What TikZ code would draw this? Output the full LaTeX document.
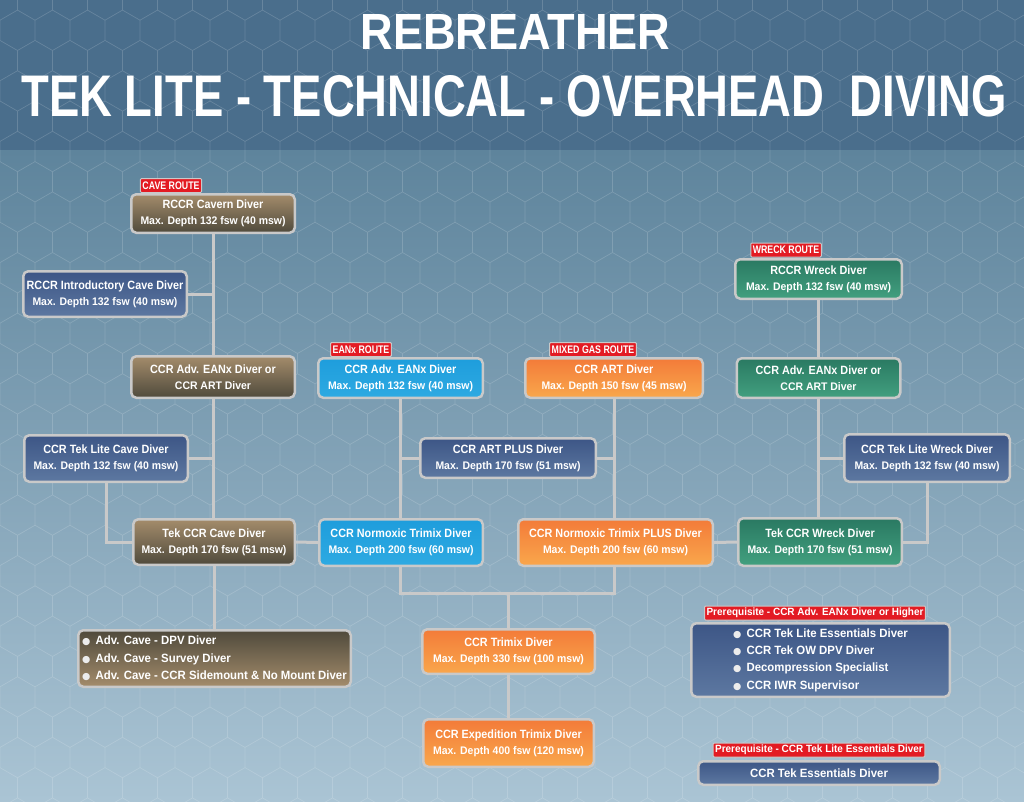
\documentclass[tikz,border=0pt]{standalone}
\usepackage{fontspec}
\setmainfont{Liberation Sans}[FakeStretch=0.95]
\newfontfamily\headfont{Liberation Sans}[FakeStretch=0.9]
\newfontfamily\tabfont{Liberation Sans}[FakeStretch=0.8]
\newfontfamily\dotfont{DejaVu Sans}
\usetikzlibrary{calc}
\pgfdeclarelayer{bg}
\pgfdeclarelayer{lines}
\pgfsetlayers{bg,lines,main}
\definecolor{hdr}{HTML}{4A6E8C}
\definecolor{bgtop}{HTML}{5E849C}
\definecolor{bgmid}{HTML}{7FA2B8}
\definecolor{bgbot}{HTML}{AAC4D4}
\definecolor{brdr}{HTML}{C9C9C9}
\definecolor{brownT}{HTML}{A48C6B}
\definecolor{brownB}{HTML}{4F4A3C}
\definecolor{navyT}{HTML}{3D5686}
\definecolor{navyB}{HTML}{5D78A1}
\definecolor{skyT}{HTML}{1E9DDC}
\definecolor{skyB}{HTML}{2EAAE2}
\definecolor{orgT}{HTML}{F37B39}
\definecolor{orgB}{HTML}{F9A74C}
\definecolor{grnT}{HTML}{2A7962}
\definecolor{grnB}{HTML}{42A07F}
\definecolor{tabred}{HTML}{E31B23}
\newcommand\subl[1]{{\normalfont\bfseries\fontsize{11}{12}\selectfont #1}}
\newcommand\blt{\makebox[13.5pt][l]{\textcolor{white!85!gray}{\dotfont\fontsize{9.5}{10}\selectfont ●}}}
\tikzset{
  box/.style={draw=brdr, line width=2.5pt, rounded corners=5pt, text=white, align=center,
    font=\headfont\bfseries\fontsize{12}{16}\selectfont, inner sep=2pt},
  brownbox/.style={box, top color=brownT, bottom color=brownB},
  brownrev/.style={box, top color=brownB, bottom color=brownT},
  navybox/.style={box, top color=navyT, bottom color=navyB},
  skybox/.style={box, top color=skyT, bottom color=skyB},
  orgbox/.style={box, top color=orgT, bottom color=orgB},
  grnbox/.style={box, top color=grnT, bottom color=grnB},
  tab/.style={fill=tabred, draw=brdr, line width=1pt, text=white, rounded corners=1pt,
    font=\tabfont\bfseries\fontsize{11}{12}\selectfont, inner sep=2pt, minimum height=14pt},
  pretab/.style={tab, font=\normalfont\bfseries\fontsize{10.5}{11}\selectfont},
  conn/.style={draw=brdr, line width=3pt},
  ttl/.style={text=white, inner sep=0pt, font=\bfseries},
}
\begin{document}
\begin{tikzpicture}[x=1pt, y=-1pt]
\useasboundingbox (0,0) rectangle (1024,801);
\begin{pgfonlayer}{bg}
  \shade[top color=bgtop, middle color=bgmid, bottom color=bgbot] (0,150) rectangle (1024,801);
  \fill[hdr] (0,0) rectangle (1024,150);
  \draw[white, opacity=0.16, line width=0.7pt]
    \foreach \j [evaluate=\j as \off using {mod(\j,2)*17.5}] in {0,...,27} {
      \foreach \i in {-1,...,30} {
        ({\i*35+\off-17.5},{\j*30.3-10.1}) -- ({\i*35+\off},{\j*30.3-20.2})
        -- ({\i*35+\off+17.5},{\j*30.3-10.1}) -- ({\i*35+\off+17.5},{\j*30.3+10.1})
      }
    };
\end{pgfonlayer}

% title
\node[ttl] (ttl1) at (515.5,32) {\resizebox{310pt}{35pt}{REBREATHER}};
\node[ttl] (ttl2) at (514,96.5) {\resizebox{985pt}{41pt}{TEK LITE - TECHNICAL - OVERHEAD\ \ DIVING}};

% cave route
\node[brownbox, minimum width=163.5pt, minimum height=38.5pt] (c1) at (213,213.5)
  {RCCR Cavern Diver\\\subl{Max. Depth 132 fsw (40 msw)}};
\node[navybox, minimum width=163.5pt, minimum height=45.5pt] (c2) at (105,294)
  {RCCR Introductory Cave Diver\\\subl{Max. Depth 132 fsw (40 msw)}};
\node[brownbox, minimum width=163.5pt, minimum height=41.5pt] (c3) at (213,377)
  {CCR Adv. EANx Diver or\\\subl{CCR ART Diver}};
\node[navybox, minimum width=163.5pt, minimum height=46.5pt] (c4) at (106,458.5)
  {CCR Tek Lite Cave Diver\\\subl{Max. Depth 132 fsw (40 msw)}};
\node[brownbox, minimum width=161.5pt, minimum height=45.5pt] (c5) at (214,542)
  {Tek CCR Cave Diver\\\subl{Max. Depth 170 fsw (51 msw)}};
\node[brownrev, minimum width=272.5pt, minimum height=56.5pt, align=left,
  font=\normalfont\bfseries\fontsize{12}{17.5}\selectfont] (c6) at (214.5,658.5)
  {\blt Adv. Cave - DPV Diver\\\blt Adv. Cave - Survey Diver\\\blt Adv. Cave - CCR Sidemount \& No Mount Diver};

% EANx / mixed gas
\node[skybox, minimum width=164.5pt, minimum height=39.5pt] (e1) at (400.5,378)
  {CCR Adv. EANx Diver\\\subl{Max. Depth 132 fsw (40 msw)}};
\node[orgbox, minimum width=177.5pt, minimum height=39.5pt] (m1) at (614,378)
  {CCR ART Diver\\\subl{Max. Depth 150 fsw (45 msw)}};
\node[navybox, minimum width=175.5pt, minimum height=39.5pt] (e2) at (508,458)
  {CCR ART PLUS Diver\\\subl{Max. Depth 170 fsw (51 msw)}};
\node[skybox, minimum width=163.5pt, minimum height=46.5pt] (e3) at (401,542.5)
  {CCR Normoxic Trimix Diver\\\subl{Max. Depth 200 fsw (60 msw)}};
\node[orgbox, minimum width=194.5pt, minimum height=46.5pt] (m3) at (615.5,542.5)
  {CCR Normoxic Trimix PLUS Diver\\\subl{Max. Depth 200 fsw (60 msw)}};
\node[orgbox, minimum width=172.5pt, minimum height=44.5pt] (t1) at (508.5,651.5)
  {CCR Trimix Diver\\\subl{Max. Depth 330 fsw (100 msw)}};
\node[orgbox, minimum width=170.5pt, minimum height=47.5pt] (t2) at (508.5,743)
  {CCR Expedition Trimix Diver\\\subl{Max. Depth 400 fsw (120 msw)}};

% wreck route
\node[grnbox, minimum width=166.5pt, minimum height=39.5pt] (w1) at (818.5,279)
  {RCCR Wreck Diver\\\subl{Max. Depth 132 fsw (40 msw)}};
\node[grnbox, minimum width=163.5pt, minimum height=39.5pt] (w2) at (818.5,378)
  {CCR Adv. EANx Diver or\\\subl{CCR ART Diver}};
\node[navybox, minimum width=165.5pt, minimum height=47.5pt] (w3) at (927,458)
  {CCR Tek Lite Wreck Diver\\\subl{Max. Depth 132 fsw (40 msw)}};
\node[grnbox, minimum width=163.5pt, minimum height=47.5pt] (w4) at (820,542)
  {Tek CCR Wreck Diver\\\subl{Max. Depth 170 fsw (51 msw)}};

% prerequisite boxes
\node[navybox, minimum width=258.5pt, minimum height=73.5pt, align=left,
  font=\normalfont\bfseries\fontsize{12}{17.3}\selectfont] (p1) at (820.5,660)
  {\blt CCR Tek Lite Essentials Diver\\\blt CCR Tek OW DPV Diver\\\blt Decompression Specialist\\\blt CCR IWR Supervisor};
\node[navybox, minimum width=241.5pt, minimum height=23.5pt, font=\normalfont\bfseries\fontsize{12}{13}\selectfont] (p2) at (819,773)
  {CCR Tek Essentials Diver};

% tabs
\node[tab] (tc) at (171,185.5) {CAVE ROUTE};
\node[tab] (te) at (361,349.5) {EANx ROUTE};
\node[tab] (tm) at (593,349.5) {MIXED GAS ROUTE};
\node[tab] (tw) at (786,250) {WRECK ROUTE};
\node[pretab] (tp1) at (815,613) {Prerequisite - CCR Adv. EANx Diver or Higher};
\node[pretab] (tp2) at (819,750) {Prerequisite - CCR Tek Lite Essentials Diver};

\coordinate (j) at (508.5,593);

\begin{pgfonlayer}{lines}
  \draw[conn] (c1.south) -- (c3.north);
  \draw[conn] (c2.east) -- (c2.east -| c1.south);
  \draw[conn] (c3.south) -- (c3.south |- c5.north);
  \draw[conn] (c4.east) -- (c4.east -| c3.south);
  \draw[conn] (c4.south) |- (c5.west);
  \draw[conn] (c5.south) -- (c5.south |- c6.north);
  \draw[conn] (c5.east) -- (e3.west);
  \draw[conn] (e1.south) -- (e1.south |- e3.north);
  \draw[conn] (e2.west) -- (e2.west -| e1.south);
  \draw[conn] (e2.east) -- (e2.east -| m1.south);
  \draw[conn] (m1.south) -- (m1.south |- m3.north);
  \draw[conn] (e1.south |- e3.south) |- (j) -| (m1.south |- m3.south);
  \draw[conn] (j) -- (t1.north);
  \draw[conn] (t1.south) -- (t2.north);
  \draw[conn] (m3.east) -- (w4.west);
  \draw[conn] (w1.south) -- (w2.north);
  \draw[conn] (w2.south) -- (w2.south |- w4.north);
  \draw[conn] (w3.west) -- (w3.west -| w2.south);
  \draw[conn] (w3.south) |- (w4.east);
\end{pgfonlayer}
\end{tikzpicture}
\end{document}
